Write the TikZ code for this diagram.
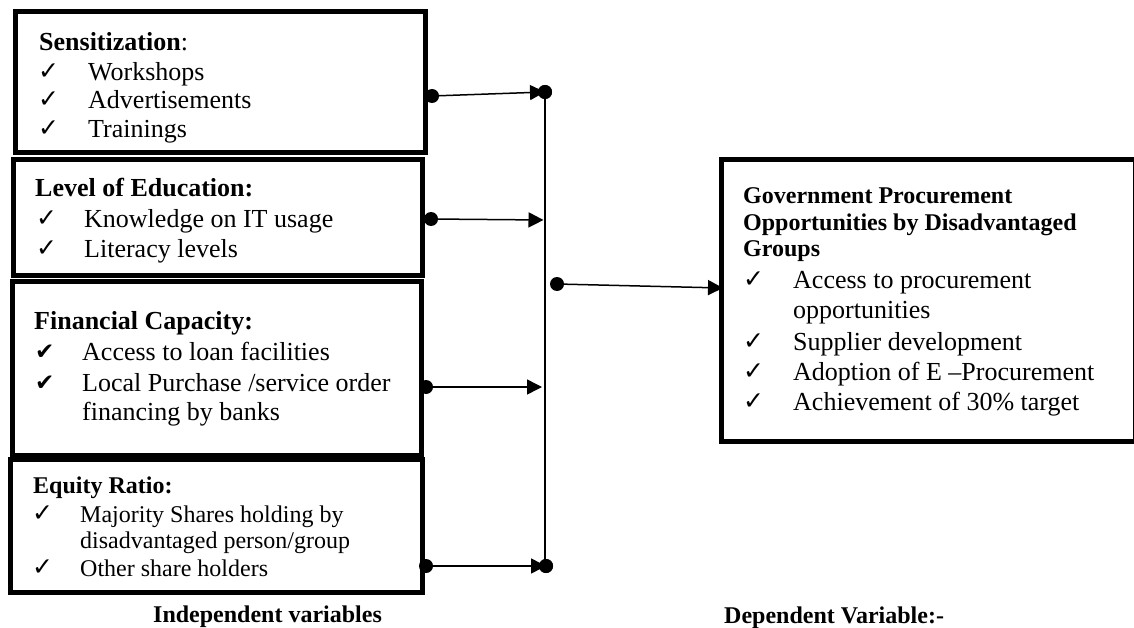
\documentclass[tikz,border=0pt]{standalone}
\usepackage{fontspec}
\setmainfont{Liberation Serif}
\newfontfamily\chkfont{DejaVu Sans}
\usetikzlibrary{arrows.meta}
\begin{document}
\begin{tikzpicture}[x=1pt,y=-1pt,
  boxst/.style={draw, line width=5pt, inner sep=0pt, outer sep=0pt, anchor=north west},
  ln/.style={anchor=base west, inner sep=0pt, font=\fontsize{26}{28}\selectfont},
  lns/.style={anchor=base west, inner sep=0pt, font=\fontsize{24}{26}\selectfont},
  hd/.style={anchor=base west, inner sep=0pt, font=\fontsize{26}{28}\selectfont\bfseries},
  hds/.style={anchor=base west, inner sep=0pt, font=\fontsize{24}{26}\selectfont\bfseries},
  ck/.style={anchor=base west, inner sep=0pt, font=\fontsize{25}{25}\chkfont},
  ckb/.style={anchor=base west, inner sep=0pt, font=\fontsize{23}{23}\chkfont},
  conn/.style={line width=1.5pt},
  arr/.style={conn, -{Triangle[length=15pt,width=15pt]}},
  dot/.style={circle, fill=black, inner sep=0pt, outer sep=0pt, minimum size=14pt}
]
\useasboundingbox[fill=white] (0,0) rectangle (1134,628);

% boxes
\node[boxst, minimum width=410pt, minimum height=141pt] (b1) at (15.5,11.5) {};
\node[boxst, minimum width=409pt, minimum height=116pt] (b2) at (13.5,159.5) {};
\node[boxst, minimum width=409pt, minimum height=174pt] (b3) at (12.5,281.5) {};
\node[boxst, minimum width=412pt, minimum height=133pt] (b4) at (10.5,459.5) {};
\node[boxst, minimum width=414pt, minimum height=282pt] (rb) at (721.5,159.5) {};

% box 1 text
\node[ln] (h1) at (39,51) {\textbf{Sensitization}:};
\node[ck] (c11) at (38,80) {✓};
\node[ln] (t11) at (88,81) {Workshops};
\node[ck] (c12) at (38,108) {✓};
\node[ln] (t12) at (88,109) {Advertisements};
\node[ck] (c13) at (38,137) {✓};
\node[ln] (t13) at (88,138) {Trainings};

% box 2 text
\node[hd] (h2) at (35,197) {Level of Education:};
\node[ck] (c21) at (36,227) {✓};
\node[ln] (t21) at (84,228) {Knowledge on IT usage};
\node[ck] (c22) at (36,257) {✓};
\node[ln] (t22) at (84,258) {Literacy levels};

% box 3 text
\node[hd] (h3) at (34,329) {Financial Capacity:};
\node[ckb] (c31) at (35,359) {✔};
\node[ln] (t31) at (82,360) {Access to loan facilities};
\node[ckb] (c32) at (35,390) {✔};
\node[ln] (t32) at (82,391) {Local Purchase /service order};
\node[ln] (t33) at (82,420) {financing by banks};

% box 4 text
\node[hds] (h4) at (33,493) {Equity Ratio:};
\node[ck] (c41) at (32,521) {✓};
\node[lns] (t41) at (80,522) {Majority Shares holding by};
\node[lns] (t42) at (80,548) {disadvantaged person/group};
\node[ck] (c42) at (32,575) {✓};
\node[lns] (t43) at (80,576) {Other share holders};

% right box text
\node[hds] (h51) at (743,204) {Government Procurement};
\node[hds] (h52) at (743,231) {Opportunities by Disadvantaged};
\node[hds] (h53) at (743,257) {Groups};
\node[ck] (c51) at (743,287) {✓};
\node[ln] (t51) at (793,288) {Access to procurement};
\node[ln] (t52) at (793,318) {opportunities};
\node[ck] (c52) at (743,349) {✓};
\node[ln] (t53) at (793,350) {Supplier development};
\node[ck] (c53) at (743,379) {✓};
\node[ln] (t54) at (793,380) {Adoption of E –Procurement};
\node[ck] (c54) at (743,409) {✓};
\node[ln] (t55) at (793,410) {Achievement of 30\% target};

% captions
\node[hds] (iv) at (153,622) {Independent variables};
\node[hds] (dv) at (724,623) {Dependent Variable:-};

% connector points
\coordinate (v2) at (543.5,220);
\coordinate (v3) at (542,387);
\coordinate (m2) at (723,288);

% dots
\node[dot] (d1) at (432,96) {};
\node[dot] (d2) at (431,219) {};
\node[dot] (d3) at (426,387) {};
\node[dot] (d4) at (426,566) {};
\node[dot] (dm) at (557,284) {};
\node[dot] (t1) at (545,92) {};
\node[dot] (t4) at (546,566) {};

% connectors
\draw[conn] (t1.center) -- (t4.center -| t1.center);
\draw[arr] (d1.center) -- (t1.center);
\draw[arr] (d2.center) -- (v2);
\draw[arr] (d3.center) -- (v3);
\draw[arr] (d4.center) -- (t4.center);
\draw[arr] (dm.center) -- (m2);

% end dots on top of the arrow tips
\fill (t1) circle (7pt);
\fill (t4) circle (7pt);
\end{tikzpicture}
\end{document}
